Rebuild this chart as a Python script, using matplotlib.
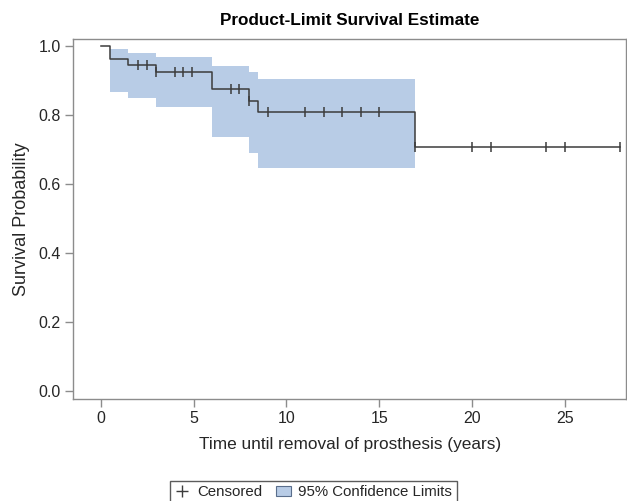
import numpy as np
import matplotlib
matplotlib.use("Agg")
import matplotlib.pyplot as plt
from matplotlib.patches import Patch
from matplotlib.lines import Line2D

plt.rcParams['font.family'] = ['Liberation Sans', 'DejaVu Sans']

# Kaplan-Meier step function
step_times = [0.0, 0.48, 1.49, 2.96, 6.01, 8.0, 8.49, 16.95, 27.96]
step_surv = [1.0, 0.961, 0.944, 0.923, 0.874, 0.841, 0.807, 0.705, 0.705]

# 95% confidence limits
band_times = [0.48, 1.49, 2.96, 6.01, 8.0, 8.49, 16.95]
band_upper = [0.990, 0.978, 0.968, 0.942, 0.923, 0.904, 0.904]
band_lower = [0.865, 0.848, 0.823, 0.736, 0.690, 0.645, 0.645]

# censored observations
censor_times = [1.99, 2.51, 2.96, 4.0, 4.45, 4.93, 7.02, 7.46, 8.0, 8.99,
                11.0, 12.0, 13.0, 14.0, 15.0, 16.95, 19.98, 21.0, 24.0, 25.0, 27.96]

x_ticks = [0, 5, 10, 15, 20, 25]
y_ticks = [0.0, 0.2, 0.4, 0.6, 0.8, 1.0]

band_color = '#B8CCE6'
line_color = '#3C3C3C'
frame_color = '#8C8C8C'
text_color = '#262626'

fig = plt.figure(figsize=(6.27, 5.01), dpi=100)
ax = fig.add_axes([73.3 / 627, 1 - 398.7 / 501, (626 - 73.3) / 627, (398.7 - 39) / 501])

ax.fill_between(band_times, band_lower, band_upper, step='post',
                color=band_color, linewidth=0, zorder=1)
ax.step(step_times, step_surv, where='post', color=line_color, linewidth=1.1, zorder=3)

st = np.array(step_times)
sv = np.array(step_surv)
idx = np.searchsorted(st, np.array(censor_times), side='right') - 1
cy = sv[idx]
ax.plot(censor_times, cy, linestyle='none', marker='|', markersize=7,
        markeredgewidth=1.1, color=line_color, zorder=4)

ax.set_xlim(-1.475, 28.29)
ax.set_ylim(-0.022, 1.019)
ax.set_xticks(x_ticks)
ax.set_yticks(y_ticks)
ax.set_yticklabels([f"{v:.1f}" for v in y_ticks])

for s in ax.spines.values():
    s.set_color(frame_color)
    s.set_linewidth(1.0)
ax.tick_params(axis='both', colors=frame_color, labelcolor=text_color,
               labelsize=11.5, length=6, width=1.0, direction='out', pad=3)

ax.set_xlabel('Time until removal of prosthesis (years)', fontsize=12.4,
              color=text_color, labelpad=8)
ax.set_ylabel('Survival Probability', fontsize=13, color=text_color, labelpad=6)
ax.set_title('Product-Limit Survival Estimate', fontsize=12.3, fontweight='bold',
             color='black', pad=10)

handles = [
    Line2D([], [], linestyle='none', marker='+', markersize=8, markeredgewidth=1.0,
           color=line_color, label='Censored'),
    Patch(facecolor=band_color, edgecolor='#5A6E8C', linewidth=0.8,
          label='95% Confidence Limits'),
]
leg = fig.legend(handles=handles, loc='lower center', bbox_to_anchor=(0.5, -0.02),
                 ncol=2, frameon=True, fancybox=False, fontsize=10.8,
                 handlelength=1.0, handletextpad=0.5, columnspacing=0.9,
                 borderpad=0.3, labelcolor=text_color)
leg.get_frame().set_edgecolor('#333333')
leg.get_frame().set_linewidth(1.0)

fig.savefig('out.png', dpi=100)
